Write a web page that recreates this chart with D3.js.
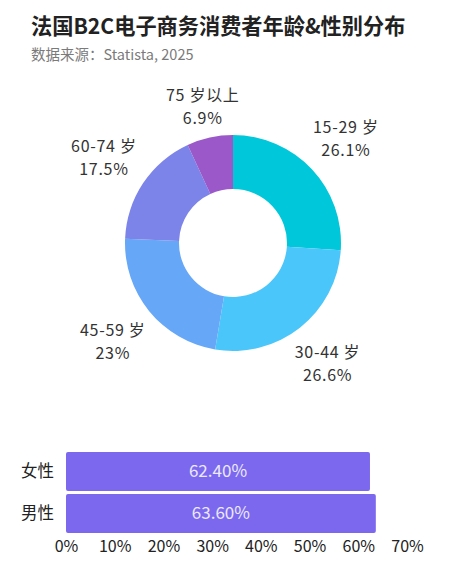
<!DOCTYPE html>
<html><head><meta charset="utf-8">
<script src="https://cdn.jsdelivr.net/npm/d3@7"></script>
<style>
body{margin:0;background:#fff;}
svg{display:block;font-family:"Noto Sans CJK SC","Noto Sans",sans-serif;}
</style></head>
<body>
<svg id="chart" width="453" height="570"></svg>
<script>
const ageGroups = ["15-29 岁", "30-44 岁", "45-59 岁", "60-74 岁", "75 岁以上"];
const ageShares = [26.1, 26.6, 23, 17.5, 6.9];
const ageColors = ["#00C8DA", "#4BC6FA", "#66A7F8", "#7C84E9", "#9A58C9"];
const genders = ["女性", "男性"];
const genderShares = [62.4, 63.6];
const genderLabels = ["62.40%", "63.60%"];
const xTicks = [0, 10, 20, 30, 40, 50, 60, 70];

const svg = d3.select("#chart");

svg.append("text").attr("x", 31).attr("y", 34)
  .attr("font-size", 21.2).attr("font-weight", "bold").attr("fill", "#222")
  .text("法国B2C电子商务消费者年龄&性别分布");
svg.append("text").attr("x", 31).attr("y", 60)
  .attr("font-size", 14.5).attr("fill", "#7a7a7a")
  .text("数据来源：Statista, 2025");

// Donut
const cx = 233, cy = 243, rOuter = 108, rInner = 54;
const pie = d3.pie().sort(null).value(d => d)(ageShares);
const arc = d3.arc().innerRadius(rInner).outerRadius(rOuter);
const g = svg.append("g").attr("transform", `translate(${cx},${cy})`);
g.selectAll("path").data(pie).join("path")
  .attr("d", arc).attr("fill", (d, i) => ageColors[i]);

const labelGap = 116;
const lineGap = 23;
pie.forEach((d, i) => {
  const lg = g.append("g");
  const fs = 16, ls = 0.7;
  lg.append("text").attr("font-size", fs).attr("letter-spacing", ls).attr("fill", "#333")
    .attr("text-anchor", "middle").attr("x", 0).attr("y", 0).text(ageGroups[i]);
  lg.append("text").attr("font-size", fs).attr("letter-spacing", ls).attr("fill", "#333")
    .attr("text-anchor", "middle").attr("x", 0).attr("y", lineGap).text(ageShares[i] + "%");
  const bb = lg.node().getBBox();
  const w = bb.width, h = bb.height - 4;
  const a = (d.startAngle + d.endAngle) / 2;
  const ux = Math.sin(a), uy = -Math.cos(a);
  let lo = 0, hi = 400;
  for (let k = 0; k < 60; k++) {
    const m = (lo + hi) / 2;
    const bx = ux * m, by = uy * m;
    const nx = Math.max(Math.abs(bx) - w / 2, 0);
    const ny = Math.max(Math.abs(by) - h / 2, 0);
    if (Math.hypot(nx, ny) < labelGap) lo = m; else hi = m;
  }
  const bx = ux * lo, by = uy * lo;
  const ocx = bb.x + bb.width / 2, ocy = bb.y + bb.height / 2;
  lg.attr("transform", `translate(${bx - ocx},${by - ocy})`);
});

// Bars
const x = d3.scaleLinear().domain([0, 70]).range([66, 407]);
const y = d3.scaleBand().domain(genders).range([452, 533]).paddingInner(0.07);
svg.selectAll("rect.bar").data(genders).join("rect").attr("class", "bar")
  .attr("x", x(0)).attr("y", d => y(d))
  .attr("width", (d, i) => x(genderShares[i]) - x(0))
  .attr("height", y.bandwidth()).attr("rx", 2)
  .attr("fill", "#7B68EE");
svg.selectAll("text.bl").data(genders).join("text").attr("class", "bl")
  .attr("x", (d, i) => (x(0) + x(genderShares[i])) / 2)
  .attr("y", d => y(d) + y.bandwidth() / 2).attr("dy", "0.35em")
  .attr("text-anchor", "middle").attr("font-size", 17).attr("fill", "#ECE9FC")
  .text((d, i) => genderLabels[i]);

const yAxis = svg.append("g").attr("transform", `translate(${x(0)},0)`)
  .call(d3.axisLeft(y).tickSize(0).tickPadding(12));
yAxis.select(".domain").remove();
yAxis.selectAll("text").attr("font-size", 16.5).attr("fill", "#222")
  .attr("font-family", "'Noto Sans CJK SC',sans-serif");

const xAxis = svg.append("g").attr("transform", `translate(0,537)`)
  .call(d3.axisBottom(x).tickValues(xTicks).tickFormat(d => d + "%").tickSize(0).tickPadding(4));
xAxis.select(".domain").remove();
xAxis.selectAll("text").attr("font-size", 16).attr("fill", "#222")
  .attr("font-family", "'Noto Sans CJK SC',sans-serif");
</script>
</body></html>
